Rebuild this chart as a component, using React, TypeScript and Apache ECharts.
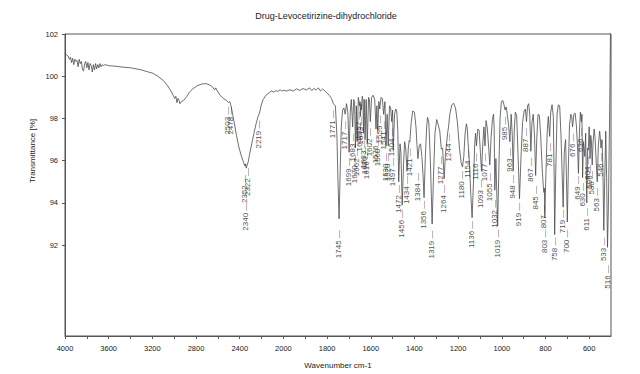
import React, { useEffect, useRef } from "react";
import * as echarts from "echarts";

// Spectrum (wavenumber cm-1, transmittance %)
const spectrumWn = [
  4000, 3985, 3970, 3960, 3950, 3940, 3930, 3920, 3910, 3900, 3890, 3880, 3870, 3860, 3850, 3840, 3830, 3820, 3810, 3800,
  3790, 3780, 3770, 3760, 3750, 3740, 3730, 3720, 3710, 3700, 3690, 3680, 3670, 3660, 3650, 3630, 3600, 3550, 3500, 3450,
  3400, 3350, 3300, 3250, 3200, 3150, 3100, 3060, 3030, 3010, 2995, 2985, 2975, 2965, 2955, 2947, 2935, 2915, 2890, 2860,
  2830, 2790, 2750, 2710, 2680, 2650, 2630, 2620, 2605, 2580, 2550, 2520, 2503, 2490, 2478, 2465, 2450, 2430, 2410, 2390,
  2370, 2352, 2346, 2340, 2332, 2322, 2310, 2290, 2270, 2250, 2232, 2219, 2205, 2185, 2160, 2130, 2110, 2090, 2070, 2050,
  2030, 2015, 2000, 1985, 1970, 1955, 1940, 1925, 1910, 1895, 1880, 1870, 1860, 1850, 1840, 1830, 1820, 1810, 1800, 1790,
  1780, 1771, 1762, 1755, 1750, 1745, 1740, 1735, 1729, 1723, 1717, 1711, 1705, 1699, 1694, 1689, 1683, 1678, 1674, 1670,
  1666, 1662, 1657, 1655, 1652, 1649, 1647, 1645, 1643, 1639, 1636, 1633, 1630, 1626, 1621, 1616, 1610, 1606, 1602, 1596,
  1589, 1582, 1576, 1572, 1568, 1563, 1559, 1553, 1547, 1541, 1535, 1530, 1525, 1520, 1514, 1509, 1504, 1500, 1497, 1491,
  1486, 1481, 1476, 1472, 1466, 1462, 1456, 1450, 1445, 1440, 1434, 1428, 1424, 1421, 1415, 1408, 1400, 1393, 1388, 1384,
  1378, 1372, 1366, 1361, 1356, 1350, 1344, 1340, 1334, 1327, 1319, 1313, 1306, 1298, 1291, 1284, 1277, 1271, 1264, 1258,
  1252, 1248, 1244, 1238, 1229, 1221, 1212, 1203, 1194, 1186, 1180, 1174, 1168, 1162, 1158, 1154, 1148, 1142, 1136, 1130,
  1124, 1120, 1116, 1110, 1104, 1098, 1093, 1087, 1082, 1077, 1072, 1066, 1060, 1055, 1049, 1043, 1038, 1035, 1032, 1027,
  1019, 1013, 1008, 1002, 995, 990, 985, 980, 975, 969, 963, 957, 952, 948, 943, 938, 932, 926, 919, 912,
  905, 898, 892, 887, 882, 877, 872, 867, 862, 856, 850, 845, 840, 834, 828, 822, 815, 810, 807, 805,
  803, 798, 792, 787, 781, 776, 770, 764, 760, 758, 753, 747, 741, 735, 729, 724, 719, 714, 708, 704,
  700, 695, 690, 684, 680, 676, 670, 664, 658, 653, 649, 644, 640, 636, 633, 630, 626, 620, 616, 611,
  607, 604, 600, 596, 593, 590, 586, 582, 577, 573, 568, 563, 558, 552, 549, 546, 541, 537, 533, 529,
  524, 520, 516, 512, 508, 505, 502,
];
const spectrumT = [
  101.1, 101.0, 100.95, 100.8, 100.9, 100.65, 100.85, 100.55, 100.8, 100.7, 100.75, 100.45, 100.8, 100.6, 100.7, 100.3, 100.25, 100.6, 100.7, 100.4,
  100.65, 100.3, 100.6, 100.5, 100.2, 100.55, 100.3, 100.6, 100.35, 100.55, 100.4, 100.6, 100.45, 100.55, 100.5, 100.55, 100.5, 100.48, 100.45, 100.42,
  100.4, 100.35, 100.3, 100.22, 100.15, 100.0, 99.8, 99.55, 99.3, 99.1, 98.95, 99.05, 98.75, 98.95, 98.85, 98.7, 98.8, 98.85, 99.0, 99.25,
  99.4, 99.55, 99.63, 99.65, 99.6, 99.5, 99.35, 99.45, 99.3, 99.1, 98.95, 98.85, 98.75, 98.8, 98.55, 98.2, 97.8, 97.2, 96.7, 96.3,
  96.0, 95.75, 95.85, 95.65, 95.8, 95.95, 96.3, 96.8, 97.3, 97.75, 98.1, 98.25, 98.6, 98.9, 99.1, 99.22, 99.3, 99.25, 99.32, 99.28,
  99.36, 99.3, 99.33, 99.3, 99.36, 99.3, 99.4, 99.33, 99.42, 99.35, 99.45, 99.32, 99.42, 99.35, 99.45, 99.3, 99.4, 99.3, 99.2, 99.1,
  98.95, 98.7, 98.6, 97.2, 95.0, 93.25, 95.5, 97.6, 98.4, 98.5, 98.2, 98.7, 98.3, 96.4, 98.3, 98.9, 97.6, 98.9, 98.8, 96.6,
  98.6, 96.9, 99.0, 98.9, 98.6, 98.8, 98.1, 98.7, 98.4, 99.05, 98.9, 97.3, 98.9, 97.0, 98.9, 96.8, 99.0, 98.9, 97.85, 99.0,
  99.1, 98.9, 97.5, 98.6, 97.4, 98.8, 98.45, 99.0, 98.95, 98.2, 98.8, 96.7, 98.2, 96.7, 98.6, 98.5, 97.85, 98.4, 96.5, 98.2,
  98.45, 98.35, 97.4, 95.0, 96.8, 96.4, 93.9, 95.8, 96.9, 96.6, 95.5, 96.6, 96.95, 96.9, 97.8, 98.35, 98.3, 97.6, 96.7, 96.1,
  96.7, 96.8, 96.2, 95.4, 94.25, 96.2, 97.6, 98.05, 97.8, 96.0, 93.0, 95.2, 97.3, 97.95, 97.7, 97.4, 96.55, 96.6, 95.15, 96.3,
  96.9, 97.3, 97.6, 98.2, 98.65, 98.72, 98.5, 97.8, 96.6, 95.9, 95.7, 96.2, 97.3, 97.75, 97.5, 96.8, 95.9, 94.4, 93.3, 94.9,
  96.8, 97.3, 96.7, 97.5, 97.45, 96.4, 95.5, 96.8, 97.6, 96.7, 97.9, 97.5, 96.6, 95.8, 97.1, 97.95, 98.2, 97.6, 94.6, 96.1,
  92.9, 95.8, 98.0, 98.8, 98.85, 98.65, 98.4, 98.55, 98.2, 97.7, 96.9, 98.2, 97.2, 95.5, 97.4, 98.3, 98.15, 96.4, 94.2, 96.2,
  97.8, 98.35, 98.45, 97.85, 98.6, 98.7, 98.2, 96.45, 97.8, 98.2, 97.1, 95.3, 97.0, 98.2, 98.15, 97.2, 95.6, 94.8, 94.5, 94.7,
  93.3, 95.4, 97.4, 98.1, 97.15, 98.3, 98.65, 98.1, 95.0, 92.5, 95.5, 98.2, 98.65, 98.6, 97.2, 95.5, 93.8, 96.4, 97.0, 95.2,
  93.1, 95.8, 97.7, 98.2, 98.1, 97.6, 98.2, 98.25, 97.6, 96.6, 95.4, 97.5, 98.3, 97.85, 98.2, 95.2, 96.9, 96.2, 97.3, 94.0,
  96.6, 96.5, 97.6, 96.1, 97.2, 97.0, 95.8, 96.9, 97.5, 97.1, 96.0, 95.0, 96.7, 97.4, 97.1, 96.6, 97.0, 95.6, 92.7, 95.0,
  97.4, 95.2, 91.9, 93.8, 96.8, 99.5, 102.5,
];

// Peak annotations (wavenumber, transmittance where the label begins)
const peakWn = [
  2503, 2478, 2352, 2340, 2322, 2219, 1771, 1745, 1717, 1699, 1683, 1670, 1662, 1652, 1647, 1643, 1633, 1626, 1616, 1602,
  1576, 1568, 1559, 1541, 1530, 1520, 1504, 1497, 1472, 1456, 1434, 1421, 1384, 1356, 1319, 1277, 1264, 1244, 1180, 1154,
  1136, 1116, 1093, 1077, 1055, 1032, 1019, 985, 963, 948, 919, 887, 867, 845, 807, 803, 781, 758, 719, 700,
  676, 649, 636, 630, 611, 604, 596, 586, 563, 546, 533, 516,
];
const peakLabelT = [
  98.54, 98.54, 95.3, 93.99, 95.63, 97.88, 98.37, 92.69, 97.84, 96.1, 97.27, 96.24, 96.57, 98.31, 97.74, 98.07, 96.94, 96.66, 96.43, 97.51,
  97.18, 97.04, 98.12, 97.84, 96.33, 96.33, 97.51, 96.1, 94.83, 93.66, 95.25, 96.57, 95.39, 94.08, 92.67, 96.19, 94.83, 97.27, 95.49, 96.47,
  93.14, 96.33, 95.07, 96.33, 95.39, 94.13, 92.72, 98.07, 96.57, 95.3, 93.99, 97.51, 96.1, 94.78, 93.89, 92.72, 96.8, 92.34, 93.66, 92.72,
  97.27, 95.25, 97.51, 94.92, 93.75, 96.19, 95.77, 95.49, 94.69, 96.33, 92.34, 91.03,
];

// Axis ticks
const xTickWn = [
  4000, 3800, 3600, 3400, 3200, 3000, 2800, 2600, 2400, 2200, 2000, 1900, 1800, 1700, 1600, 1500, 1400, 1300, 1200, 1100,
  1000, 900, 800, 700, 600,
];
const xLabelWn = [4000, 3600, 3200, 2800, 2400, 2000, 1800, 1600, 1400, 1200, 1000, 800, 600];
const yTickValues = [92, 94, 96, 98, 100, 102];

const TITLE = "Drug-Levocetirizine-dihydrochloride";
const FONT = "'Liberation Sans', Arial, Helvetica, sans-serif";

// The x axis is scaled 2x below 2000 cm-1 (as in the instrument output)
const toU = (w: number) => (w >= 2000 ? (4000 - w) / 2 : 1000 + (2000 - w));
const fromU = (u: number) => (u <= 1000 ? 4000 - 2 * u : 2000 - (u - 1000));

export default function App() {
  const ref = useRef<HTMLDivElement>(null);

  useEffect(() => {
    if (!ref.current) return;
    const chart = echarts.init(ref.current, null, { renderer: "svg" });
    const spectrum = spectrumWn.map((w, i) => [toU(w), spectrumT[i]]);
    const peaks = peakWn.map((w, i) => ({ value: [toU(w), peakLabelT[i]], wn: w }));

    chart.setOption({
      animation: false,
      backgroundColor: "#ffffff",
      grid: {
        left: 65,
        right: 29,
        top: 34,
        bottom: 36,
        show: true,
        borderColor: "#555",
        borderWidth: 1,
        containLabel: false,
      },
      graphic: [
        {
          type: "text",
          x: 326,
          y: 16,
          style: {
            text: TITLE,
            fontSize: 9,
            fontFamily: FONT,
            fill: "#222",
            textAlign: "center",
            textVerticalAlign: "middle",
          },
        },
        {
          type: "text",
          x: 32,
          y: 151,
          rotation: Math.PI / 2,
          style: {
            text: "Transmittance [%]",
            fontSize: 8,
            fontFamily: FONT,
            fill: "#222",
            textAlign: "center",
            textVerticalAlign: "middle",
          },
        },
      ],
      xAxis: {
        type: "value",
        min: 0,
        max: 2500,
        name: "Wavenumber cm-1",
        nameLocation: "middle",
        nameGap: 25,
        nameTextStyle: { fontSize: 8, fontFamily: FONT, color: "#222" },
        axisLine: { show: true, lineStyle: { color: "#555", width: 1 } },
        axisTick: {
          show: true,
          length: 3,
          lineStyle: { color: "#555" },
          customValues: xTickWn.map(toU),
        },
        axisLabel: {
          show: true,
          fontSize: 7.5,
          fontFamily: FONT,
          color: "#222",
          margin: 8,
          customValues: xLabelWn.map(toU),
          formatter: (v: number) => String(Math.round(fromU(v))),
        },
        splitLine: { show: false },
      },
      yAxis: {
        type: "value",
        min: 87.7,
        max: 102,
        axisLine: { show: true, lineStyle: { color: "#555", width: 1 } },
        axisTick: {
          show: true,
          length: 3,
          lineStyle: { color: "#555" },
          customValues: yTickValues,
        },
        axisLabel: {
          show: true,
          fontSize: 7.5,
          fontFamily: FONT,
          color: "#222",
          margin: 7,
          customValues: yTickValues,
        },
        splitLine: { show: false },
      },
      series: [
        {
          type: "line",
          data: spectrum,
          showSymbol: false,
          symbol: "none",
          clip: true,
          lineStyle: { color: "#4a4a4a", width: 0.8 },
          silent: true,
          z: 2,
        },
        {
          type: "scatter",
          data: peaks,
          symbolSize: 1,
          itemStyle: { color: "rgba(0,0,0,0)" },
          silent: true,
          z: 3,
          label: {
            show: true,
            position: [0, 0],
            rotate: 90,
            align: "right",
            verticalAlign: "middle",
            fontSize: 8,
            fontFamily: FONT,
            color: "#222",
            formatter: (p: any) => `${p.data.wn} \u2014`,
          },
        },
      ],
    });

    return () => chart.dispose();
  }, []);

  return (
    <div
      ref={ref}
      style={{ position: "fixed", left: 0, top: 0, width: 640, height: 374, background: "#fff" }}
    />
  );
}
